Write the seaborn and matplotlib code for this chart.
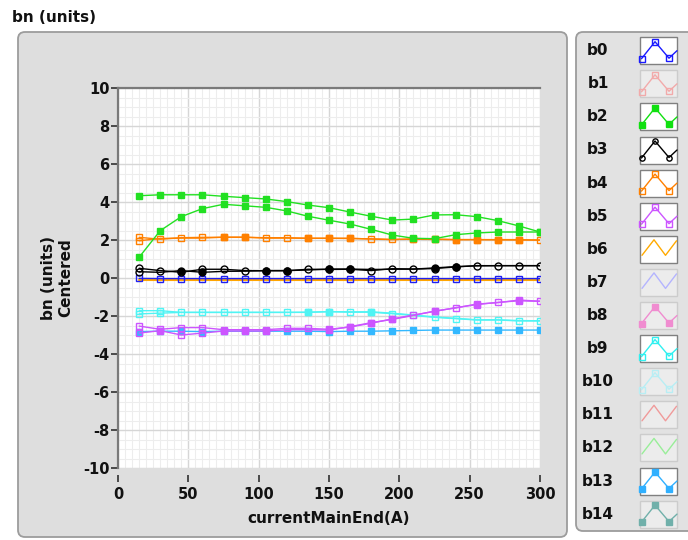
import matplotlib
matplotlib.use('Agg')
import matplotlib.pyplot as plt
import seaborn as sns
from matplotlib.patches import FancyBboxPatch, Rectangle
from matplotlib.ticker import MultipleLocator

# Datos (corriente en A, bn centrado)
current = [15, 30, 45, 60, 75, 90, 105, 120, 135, 150,
           165, 180, 195, 210, 225, 240, 255, 270, 285, 300]

b0_azul = [-0.02, -0.03, -0.03, -0.03, -0.03, -0.03, -0.03, -0.03, -0.03, -0.03,
           -0.03, -0.03, -0.03, -0.03, -0.03, -0.03, -0.03, -0.03, -0.03, -0.03]
b2_verde_a = [4.33, 4.38, 4.38, 4.38, 4.30, 4.23, 4.16, 4.02, 3.84, 3.70,
              3.47, 3.25, 3.05, 3.10, 3.32, 3.33, 3.23, 3.02, 2.74, 2.42]
b2_verde_b = [1.09, 2.49, 3.23, 3.65, 3.88, 3.80, 3.72, 3.53, 3.25, 3.04,
              2.84, 2.56, 2.26, 2.09, 2.07, 2.28, 2.37, 2.42, 2.42, 2.42]
b3_negro_a = [0.51, 0.39, 0.30, 0.46, 0.46, 0.39, 0.38, 0.38, 0.46, 0.45,
              0.46, 0.39, 0.49, 0.47, 0.50, 0.58, 0.65, 0.65, 0.65, 0.65]
b3_negro_b = [0.33, 0.30, 0.39, 0.30, 0.35, 0.36, 0.39, 0.39, 0.42, 0.47,
              0.47, 0.45, 0.46, 0.47, 0.53, 0.60, 0.64, 0.65, 0.65, 0.65]
b4_naranja_a = [2.14, 2.04, 2.12, 2.14, 2.14, 2.14, 2.12, 2.12, 2.09, 2.09,
                2.08, 2.06, 2.03, 2.04, 2.03, 2.02, 2.02, 2.01, 2.00, 2.00]
b4_naranja_b = [1.96, 2.08, 2.10, 2.10, 2.15, 2.15, 2.10, 2.10, 2.09, 2.09,
                2.09, 2.05, 2.02, 2.06, 2.05, 2.02, 2.02, 2.02, 2.02, 1.99]
b5_morado_a = [-2.53, -2.70, -2.61, -2.61, -2.72, -2.72, -2.72, -2.65, -2.65, -2.70,
               -2.58, -2.38, -2.15, -1.95, -1.76, -1.56, -1.40, -1.28, -1.20, -1.23]
b5_morado_b = [-2.90, -2.77, -3.00, -2.90, -2.79, -2.79, -2.79, -2.72, -2.72, -2.74,
               -2.56, -2.35, -2.18, -1.97, -1.74, -1.58, -1.37, -1.30, -1.16, -1.22]
b6_linea = [-0.12, -0.12, -0.12, -0.12, -0.12, -0.12, -0.12, -0.12, -0.12, -0.12,
            -0.12, -0.12, -0.12, -0.12, -0.12, -0.12, -0.12, -0.12, -0.12, -0.12]
b9_cian_a = [-1.72, -1.72, -1.81, -1.81, -1.81, -1.81, -1.81, -1.81, -1.80, -1.77,
             -1.80, -1.80, -1.88, -1.97, -2.07, -2.14, -2.21, -2.21, -2.26, -2.26]
b9_cian_b = [-1.89, -1.85, -1.81, -1.81, -1.81, -1.81, -1.81, -1.81, -1.81, -1.77,
             -1.78, -1.78, -1.85, -1.95, -2.05, -2.12, -2.20, -2.20, -2.24, -2.25]
b13_celeste = [-2.82, -2.80, -2.80, -2.82, -2.80, -2.80, -2.80, -2.80, -2.80, -2.82,
               -2.80, -2.80, -2.78, -2.76, -2.74, -2.74, -2.74, -2.74, -2.74, -2.74]

# puntos con marcador relleno / hueco en las series superpuestas
todos = list(range(len(current)))
llenos_negro = [2, 3, 6, 7, 9, 10, 14, 15]
llenos_naranja = [4, 5, 8, 9, 10, 13, 14, 15, 16, 17, 18]
llenos_morado = [1, 4, 5, 6, 9, 10, 11, 12, 14, 16, 18]
huecos_morado = [0, 2, 3]
llenos_cian = [8, 9, 11]

etiquetas = ['b0', 'b1', 'b2', 'b3', 'b4', 'b5', 'b6', 'b7',
             'b8', 'b9', 'b10', 'b11', 'b12', 'b13', 'b14']
# (color, marcador, relleno, activo)
estilos = [('#1a1aff', 's', False, True), ('#f2aaaa', 's', False, False),
           ('#10e010', 's', True, True), ('#000000', 'o', False, True),
           ('#ff8000', 's', False, True), ('#cc55ff', 's', False, True),
           ('#ffaa00', None, False, True), ('#b4b4ff', None, False, False),
           ('#f08cd0', 's', True, False), ('#30f0f0', 's', False, True),
           ('#b8eef4', 's', False, False), ('#f09a9a', None, False, False),
           ('#99ee99', None, False, False), ('#30b0ff', 's', True, True),
           ('#70b0aa', 's', True, False)]

sns.set_style('white')
plt.rcParams['font.family'] = ['DejaVu Sans']
plt.rcParams['axes.unicode_minus'] = False
plt.rcParams['text.color'] = '#111111'
plt.rcParams['axes.labelcolor'] = '#111111'
plt.rcParams['xtick.color'] = '#111111'
plt.rcParams['ytick.color'] = '#111111'

fig = plt.figure(figsize=(6.88, 5.4), dpi=100)

# fondo en píxeles: paneles grises y título
bg = fig.add_axes([0, 0, 1, 1], zorder=-10)
bg.set_xlim(0, 688)
bg.set_ylim(540, 0)
bg.axis('off')
bg.add_patch(FancyBboxPatch((18, 32), 549, 505, boxstyle='round,pad=0,rounding_size=7',
                            fc='#dedede', ec='#9c9c9c', lw=1.3))
bg.add_patch(FancyBboxPatch((576, 32), 130, 499, boxstyle='round,pad=0,rounding_size=7',
                            fc='#e2e2e2', ec='#9c9c9c', lw=1.3))
bg.text(12, 18, 'bn (units)', fontsize=11, fontweight='bold', va='center', ha='left')

# leyenda propia
for i, (nombre, (col, mk, relleno, activo)) in enumerate(zip(etiquetas, estilos)):
    cy = 50.7 + 33.1 * i
    top = cy - 13.5
    bg.text(598, cy, nombre, fontsize=11, fontweight='bold', ha='center', va='center')
    bg.add_patch(Rectangle((640, top), 37, 27, fc='white' if activo else '#ececec',
                           ec='#808080' if activo else '#cccccc', lw=1.0))
    if mk:
        xs = [641.5, 655, 669, 677]
        ys = [top + 21.5, top + 4.5, top + 21, top + 13.5]
        bg.plot(xs, ys, color=col, lw=1.0, marker=mk, markevery=[0, 1, 2], markersize=3.8,
                markerfacecolor=col if relleno else 'none', markeredgecolor=col, mew=1.0)
    else:
        xs = [642, 654, 665.5, 676.5]
        ys = [top + 19.5, top + 4, top + 19.5, top + 5]
        bg.plot(xs, ys, color=col, lw=1.0)

ax = fig.add_axes([118 / 688, 1 - 468 / 540, 422 / 688, 380 / 540])
ax.set_facecolor('white')


def serie(y, color, marker='s', llenos=(), huecos=(), lw=1.0, ms=5):
    sns.lineplot(x=current, y=y, color=color, lw=lw, ax=ax, estimator=None)
    if huecos:
        sns.lineplot(x=current, y=y, color=color, lw=0, ax=ax, estimator=None,
                     marker=marker, markevery=list(huecos), markersize=ms,
                     markerfacecolor='none', markeredgecolor=color, markeredgewidth=1.0)
    if llenos:
        sns.lineplot(x=current, y=y, color=color, lw=0, ax=ax, estimator=None,
                     marker=marker, markevery=list(llenos), markersize=ms,
                     markerfacecolor=color, markeredgecolor=color, markeredgewidth=1.0)


serie(b6_linea, '#ffa500', lw=1.5)
serie(b13_celeste, '#33b8ff', llenos=todos)
serie(b9_cian_a, '#50f4f4', huecos=todos)
serie(b9_cian_b, '#50f4f4', llenos=llenos_cian, huecos=[0, 1])
serie(b5_morado_a, '#cc55ff', huecos=todos)
serie(b5_morado_b, '#cc55ff', llenos=llenos_morado, huecos=huecos_morado)
serie(b0_azul, '#2020f0', huecos=todos)
serie(b3_negro_a, '#000000', marker='o', huecos=todos)
serie(b3_negro_b, '#000000', marker='o', llenos=llenos_negro, huecos=[0])
serie(b4_naranja_a, '#ff8000', huecos=todos)
serie(b4_naranja_b, '#ff8000', llenos=llenos_naranja, huecos=[0])
serie(b2_verde_a, '#22e022', llenos=todos)
serie(b2_verde_b, '#22e022', llenos=todos)

ax.set_xlim(0, 300)
ax.set_ylim(-10, 10)
ax.xaxis.set_major_locator(MultipleLocator(50))
ax.xaxis.set_minor_locator(MultipleLocator(5))
ax.yaxis.set_major_locator(MultipleLocator(2))
ax.yaxis.set_minor_locator(MultipleLocator(0.5))
ax.grid(which='major', color='#d6d6d6', lw=1.0)
ax.grid(which='minor', color='#ededed', lw=0.8)
ax.set_axisbelow(True)

for lado in ['right', 'bottom']:
    ax.spines[lado].set_visible(False)
for lado in ['left', 'top']:
    ax.spines[lado].set_color('#7a7a7a')
    ax.spines[lado].set_linewidth(1.6)
ax.spines['bottom'].set_position(('outward', 5))

ax.tick_params(axis='both', which='major', labelsize=10.5, length=5, width=1.2,
               color='#303030', direction='out')
ax.tick_params(axis='both', which='minor', length=0)
ax.tick_params(axis='y', pad=1)
ax.tick_params(axis='x', pad=4)
ax.tick_params(axis='both', left=True, bottom=True)
for etiqueta in ax.get_xticklabels() + ax.get_yticklabels():
    etiqueta.set_fontweight('bold')

ax.set_xlabel('currentMainEnd(A)', fontsize=11, fontweight='bold', labelpad=6)
ax.set_ylabel('bn (units)\nCentered', fontsize=11, fontweight='bold', labelpad=7)

plt.savefig('out.png', dpi=100)
